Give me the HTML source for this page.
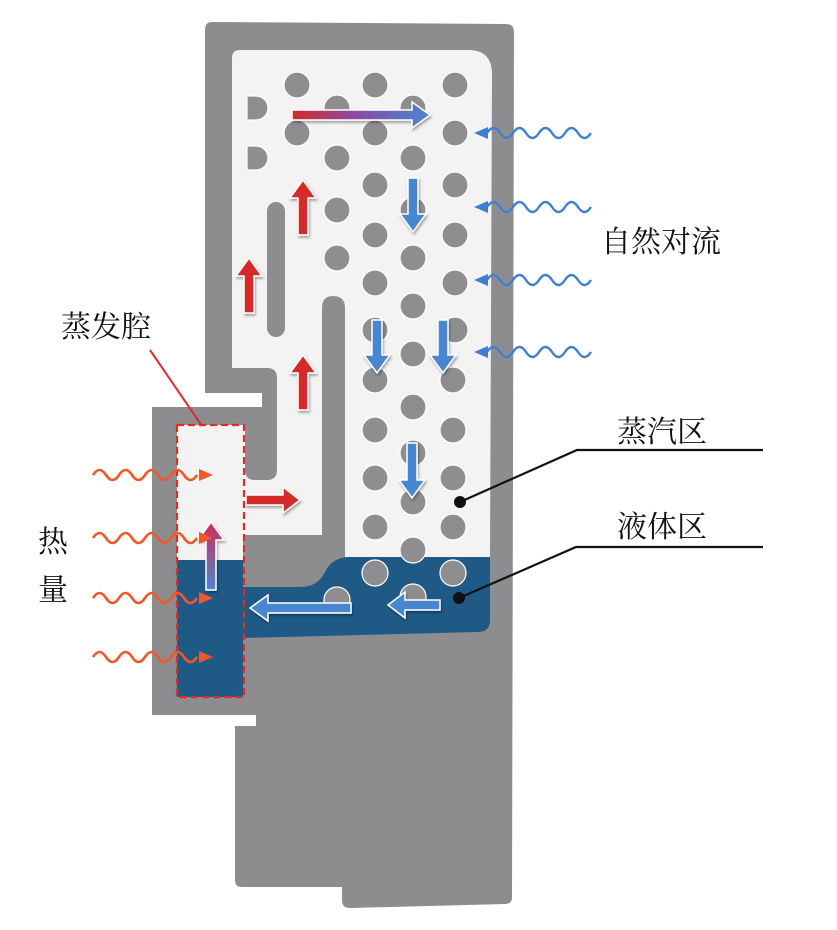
<!DOCTYPE html>
<html><head><meta charset="utf-8">
<style>
html,body{margin:0;padding:0;background:#fff;}
svg{display:block;}
.t{font-family:"Liberation Serif","Noto Serif CJK SC","Noto Sans CJK SC",serif;font-size:30px;fill:#111;}
</style></head><body>
<svg width="837" height="930" viewBox="0 0 837 930" xmlns="http://www.w3.org/2000/svg">
<defs>
<linearGradient id="gh" x1="0" x2="1" y1="0" y2="0"><stop offset="0" stop-color="#d42a2a"/><stop offset="0.45" stop-color="#8a4aa0"/><stop offset="1" stop-color="#4a86d0"/></linearGradient>
<linearGradient id="gv" x1="0" x2="0" y1="0" y2="1"><stop offset="0" stop-color="#d42a5a"/><stop offset="1" stop-color="#4a86d0"/></linearGradient>
<filter id="sh" x="-30%" y="-30%" width="160%" height="160%"><feDropShadow dx="1" dy="2" stdDeviation="1.2" flood-color="#000" flood-opacity="0.35"/></filter>
</defs>

<path d="M212,22 L506,24 Q514,24 514,32 L512,898 Q512,904 505,904 L350,908 Q342,908 342,900 L342,887 L242,887 Q235,887 235,880 L235,726 L256,726 L256,715 L152,715 L152,407 L262,407 L262,393 L205,393 L205,30 Q205,22 212,22 Z" fill="#8d8d90"/>

<path d="M240,50 L468,50 Q492,50 492,74 L490,557 L345,557 L345,308 Q345,296 333,296 Q322,296 322,308 L322,535 L243,535 L243,560 L177,560 L177,425 L245,425 L245,470 Q245,480 255,480 L267,480 Q277,480 277,470 L277,378 Q277,368 267,368 L232,368 L232,58 Q232,50 240,50 Z" fill="#f3f3f3"/>

<path d="M177,560 L243,560 L243,587 L300,587 Q318,587 325,572 Q332,557 350,557 L490,557 L490,620 Q490,632 478,632 L243,638 L243,697 L177,697 Z" fill="#1f5a86"/>

<rect x="267" y="202" width="18" height="135" rx="9" fill="#8d8d90"/>

<g fill="#8e8e91" stroke="#fff" stroke-width="1.2">
<circle cx="297" cy="85" r="13"/><circle cx="375" cy="85" r="13"/><circle cx="455" cy="85" r="13"/>
<circle cx="337" cy="108" r="13"/><circle cx="413" cy="108" r="13"/>
<circle cx="297" cy="133" r="13"/><circle cx="375" cy="133" r="13"/><circle cx="455" cy="133" r="13"/>
<circle cx="337" cy="158" r="13"/><circle cx="413" cy="158" r="13"/>
<circle cx="375" cy="185" r="13"/><circle cx="455" cy="185" r="13"/>
<circle cx="337" cy="210" r="13"/><circle cx="413" cy="210" r="13"/>
<circle cx="375" cy="235" r="13"/><circle cx="455" cy="235" r="13"/>
<circle cx="337" cy="258" r="13"/><circle cx="413" cy="258" r="13"/>
<circle cx="375" cy="283" r="13"/><circle cx="455" cy="283" r="13"/>
<circle cx="413" cy="306" r="13"/>
<circle cx="375" cy="330" r="13"/><circle cx="455" cy="330" r="13"/>
<circle cx="413" cy="354" r="13"/>
<circle cx="375" cy="380" r="13"/><circle cx="453" cy="380" r="13"/>
<circle cx="413" cy="407" r="13"/>
<circle cx="375" cy="430" r="13"/><circle cx="453" cy="430" r="13"/>
<circle cx="413" cy="453" r="13"/>
<circle cx="375" cy="478" r="13"/><circle cx="453" cy="478" r="13"/>
<circle cx="413" cy="502" r="13"/>
<circle cx="375" cy="527" r="13"/><circle cx="453" cy="527" r="13"/>
<circle cx="413" cy="550" r="13"/>
<circle cx="375" cy="573" r="13"/><circle cx="453" cy="573" r="13"/>
<circle cx="337" cy="600" r="13"/><circle cx="413" cy="597" r="13"/>
<path d="M247,96 L256,96 A12,12 0 0 1 256,120 L247,120 Z"/>
<path d="M247,146 L256,146 A12,12 0 0 1 256,170 L247,170 Z"/>
</g>

<g stroke="#fff" stroke-width="1.5" filter="url(#sh)" stroke-linejoin="miter">
<path d="M298,235 L298,198 L290,198 L303,180 L316,198 L308,198 L308,235 Z" fill="#d42a2a"/>
<path d="M244,313 L244,276 L236,276 L249,258 L262,276 L254,276 L254,313 Z" fill="#d42a2a"/>
<path d="M298,410 L298,373 L290,373 L303,355 L316,373 L308,373 L308,410 Z" fill="#d42a2a"/>
<path d="M246,495 L283,495 L283,487 L300,500 L283,513 L283,505 L246,505 Z" fill="#d42a2a"/>
<path d="M206,590 L206,540 L198,540 L211,522 L224,540 L216,540 L216,590 Z" fill="url(#gv)"/>
<path d="M292,110 L412,110 L412,102 L430,115 L412,128 L412,120 L292,120 Z" fill="url(#gh)"/>
<path d="M408,178 L408,214 L400,214 L413,232 L426,214 L418,214 L418,178 Z" fill="#4a86d0"/>
<path d="M372,320 L372,355 L364,355 L377,373 L390,355 L382,355 L382,320 Z" fill="#4a86d0"/>
<path d="M438,320 L438,355 L430,355 L443,373 L456,355 L448,355 L448,320 Z" fill="#4a86d0"/>
<path d="M407,443 L407,480 L399,480 L412,498 L425,480 L417,480 L417,443 Z" fill="#4a86d0"/>
<path d="M351,603 L268,603 L268,595 L250,608 L268,621 L268,613 L351,613 Z" fill="#4a86d0"/>
<path d="M440,600 L405,600 L405,592 L388,605 L405,618 L405,610 L440,610 Z" fill="#4a86d0"/>
</g>

<rect x="177" y="425" width="67" height="272" fill="none" stroke="#e02b2b" stroke-width="2.2" stroke-dasharray="7,4"/>
<line x1="150" y1="350" x2="202" y2="426" stroke="#e02b2b" stroke-width="2"/>

<g fill="none" stroke="#f0582a" stroke-width="2.6">
<path d="M93,475 q6.5,-10 13,0 t13,0 t13,0 t13,0 t13,0 t13,0 t13,0 t13,0"/>
<path d="M93,538 q6.5,-10 13,0 t13,0 t13,0 t13,0 t13,0 t13,0 t13,0 t13,0"/>
<path d="M93,598 q6.5,-10 13,0 t13,0 t13,0 t13,0 t13,0 t13,0 t13,0 t13,0"/>
<path d="M93,657 q6.5,-10 13,0 t13,0 t13,0 t13,0 t13,0 t13,0 t13,0 t13,0"/>
</g>
<g fill="#f0582a">
<path d="M213,475 L199,469 L199,481 Z"/><path d="M213,538 L199,532 L199,544 Z"/>
<path d="M213,598 L199,592 L199,604 Z"/><path d="M213,657 L199,651 L199,663 Z"/>
</g>

<g fill="none" stroke="#3f7fd0" stroke-width="2.4">
<path d="M487,133 q6.5,-10 13,0 t13,0 t13,0 t13,0 t13,0 t13,0 t13,0 t13,0"/>
<path d="M487,207 q6.5,-10 13,0 t13,0 t13,0 t13,0 t13,0 t13,0 t13,0 t13,0"/>
<path d="M487,280 q6.5,-10 13,0 t13,0 t13,0 t13,0 t13,0 t13,0 t13,0 t13,0"/>
<path d="M487,352 q6.5,-10 13,0 t13,0 t13,0 t13,0 t13,0 t13,0 t13,0 t13,0"/>
</g>
<g fill="#3f7fd0">
<path d="M474,133 L488,127 L488,139 Z"/><path d="M474,207 L488,201 L488,213 Z"/>
<path d="M474,280 L488,274 L488,286 Z"/><path d="M474,352 L488,346 L488,358 Z"/>
</g>

<g stroke="#111" stroke-width="2.2" fill="none">
<path d="M460,502 L577,450 L763,450"/>
<path d="M459,598 L576,547 L763,547"/>
</g>
<circle cx="460" cy="502" r="6" fill="#111"/>
<circle cx="459" cy="598" r="6" fill="#111"/>

<text class="t" x="601" y="252">自然对流</text>
<text class="t" x="617" y="442">蒸汽区</text>
<text class="t" x="617" y="537">液体区</text>
<text class="t" x="61" y="337">蒸发腔</text>
<text class="t" x="38" y="552">热</text>
<text class="t" x="38" y="600">量</text>
</svg>
</body></html>
